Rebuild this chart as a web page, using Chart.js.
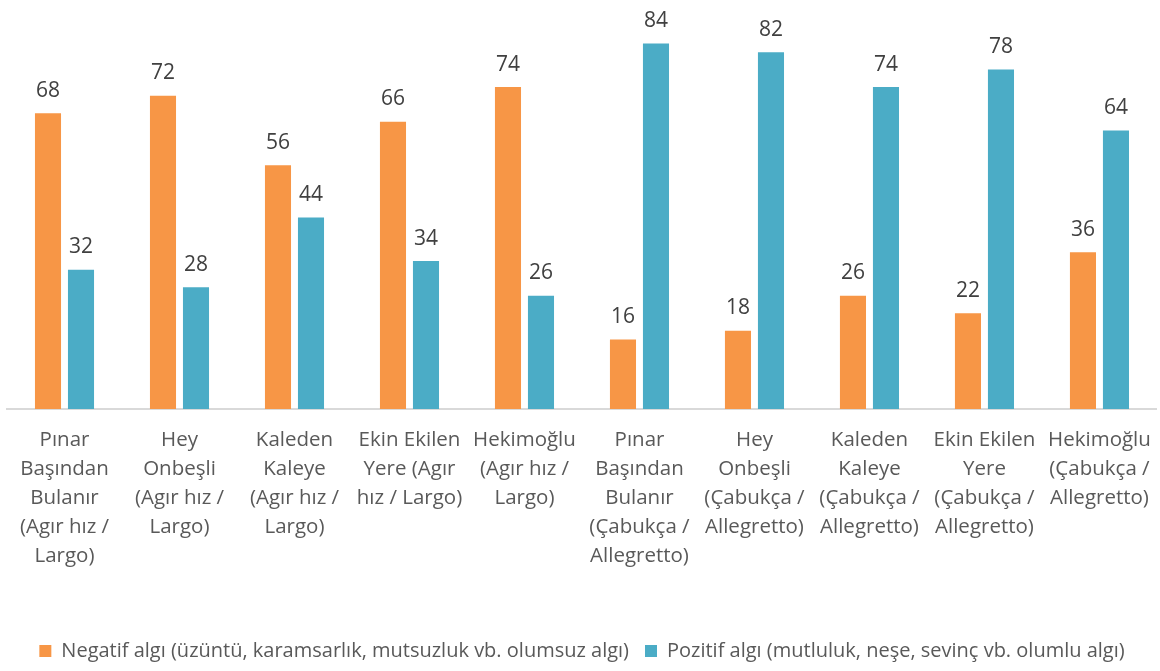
<!DOCTYPE html>
<html>
<head>
<meta charset="utf-8">
<script src="https://cdn.jsdelivr.net/npm/chart.js@4"></script>
<style>
  html, body { margin: 0; padding: 0; background: #fff; }
  #wrap { width: 1160px; height: 671px; }
</style>
</head>
<body>
<div id="wrap"><canvas id="chart"></canvas></div>
<script>
const categories = [
  ['Pınar', 'Başından', 'Bulanır', '(Agır hız /', 'Largo)'],
  ['Hey', 'Onbeşli', '(Agır hız /', 'Largo)'],
  ['Kaleden', 'Kaleye', '(Agır hız /', 'Largo)'],
  ['Ekin Ekilen', 'Yere (Agır', 'hız / Largo)'],
  ['Hekimoğlu', '(Agır hız /', 'Largo)'],
  ['Pınar', 'Başından', 'Bulanır', '(Çabukça /', 'Allegretto)'],
  ['Hey', 'Onbeşli', '(Çabukça /', 'Allegretto)'],
  ['Kaleden', 'Kaleye', '(Çabukça /', 'Allegretto)'],
  ['Ekin Ekilen', 'Yere', '(Çabukça /', 'Allegretto)'],
  ['Hekimoğlu', '(Çabukça /', 'Allegretto)']
];
const negativeLabel = 'Negatif algı (üzüntü, karamsarlık, mutsuzluk vb. olumsuz algı)';
const positiveLabel = 'Pozitif algı (mutluluk, neşe, sevinç vb. olumlu algı)';
const negativeValues = [68, 72, 56, 66, 74, 16, 18, 26, 22, 36];
const positiveValues = [32, 28, 44, 34, 26, 84, 82, 74, 78, 64];

// draws the value above each bar
const valueLabels = {
  id: 'valueLabels',
  afterDatasetsDraw(chart) {
    const ctx = chart.ctx;
    ctx.save();
    ctx.font = '21px "Open Sans", sans-serif';
    ctx.fillStyle = '#404040';
    ctx.textAlign = 'center';
    ctx.textBaseline = 'bottom';
    chart.data.datasets.forEach((ds, i) => {
      chart.getDatasetMeta(i).data.forEach((bar, j) => {
        ctx.fillText(ds.data[j], bar.x, bar.y - 12);
      });
    });
    ctx.restore();
  }
};

new Chart(document.getElementById('chart'), {
  type: 'bar',
  data: {
    labels: categories,
    datasets: [
      { label: negativeLabel, data: negativeValues, backgroundColor: '#F79646' },
      { label: positiveLabel, data: positiveValues, backgroundColor: '#4BACC6' }
    ]
  },
  options: {
    responsive: true,
    maintainAspectRatio: false,
    animation: false,
    layout: { padding: { left: 7, right: 3, top: 0, bottom: 0 } },
    categoryPercentage: 0.574,
    barPercentage: 0.79,
    scales: {
      x: {
        grid: { display: false },
        border: { display: true, color: '#D9D9D9', width: 2 },
        ticks: {
          color: '#595959',
          font: { family: 'Open Sans', size: 20.5, lineHeight: 1.41 },
          padding: 9,
          maxRotation: 0,
          autoSkip: false
        },
        afterFit(scale) {
          scale.height = scale.chart.height - 409 - scale.chart.legend.height;
        }
      },
      y: {
        display: false,
        min: 0,
        max: 94
      }
    },
    plugins: {
      legend: {
        position: 'bottom',
        align: 'center',
        labels: {
          boxWidth: 12,
          boxHeight: 12,
          padding: 16,
          color: '#595959',
          font: { family: 'Open Sans', size: 20 }
        }
      },
      tooltip: { enabled: false }
    }
  },
  plugins: [valueLabels]
});
</script>
</body>
</html>
